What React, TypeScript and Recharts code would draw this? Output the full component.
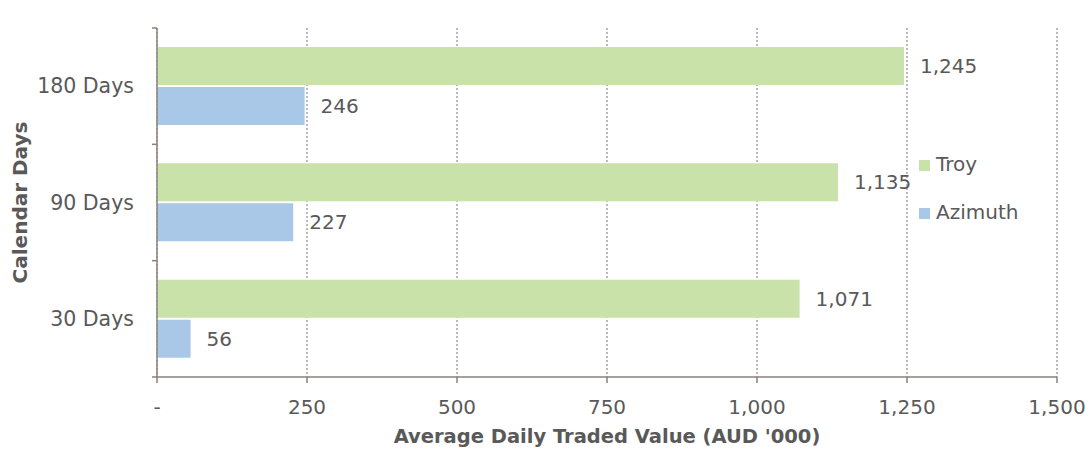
import React from "react";
import {
  BarChart,
  Bar,
  XAxis,
  YAxis,
  CartesianGrid,
  Legend,
  LabelList,
} from "recharts";

const categories = ["180 Days", "90 Days", "30 Days"];
const troyValues = [1245, 1135, 1071];
const azimuthValues = [246, 227, 56];
const xTicks = [0, 250, 500, 750, 1000, 1250, 1500];

const series = [
  { key: "troy", name: "Troy", color: "#c8e2aa" },
  { key: "azimuth", name: "Azimuth", color: "#a9c8e8" },
];

const data = categories.map((c, i) => ({
  name: c,
  troy: troyValues[i],
  azimuth: azimuthValues[i],
}));

const W = 1085;
const H = 450;
const MARGIN = { top: 28, right: 28, bottom: 0, left: 0 };
const X_AXIS_H = 73;
const PLOT_H = H - MARGIN.top - MARGIN.bottom - X_AXIS_H;

const FONT = "'DejaVu Sans', sans-serif";
const TEXT = "#595959";
const AXIS = "#8a827e";

const fmt = (v: number) => (v === 0 ? "-" : v.toLocaleString("en-US"));

const YTick = (props: any) => {
  const { x, y, payload, index } = props;
  const band = PLOT_H / categories.length;
  return (
    <g>
      <line
        x1={x - 5}
        x2={x}
        y1={y - band / 2}
        y2={y - band / 2}
        stroke={AXIS}
        strokeWidth={1.5}
      />
      {index === categories.length - 1 && (
        <line
          x1={x - 5}
          x2={x}
          y1={y + band / 2}
          y2={y + band / 2}
          stroke={AXIS}
          strokeWidth={1.5}
        />
      )}
      <text
        x={x - 23}
        y={y}
        dy="0.35em"
        textAnchor="end"
        fill={TEXT}
        fontSize={20.5}
        fontFamily={FONT}
      >
        {payload.value}
      </text>
    </g>
  );
};

const LegendContent = () => (
  <div style={{ fontFamily: FONT, fontSize: 20, color: TEXT }}>
    {series.map((s) => (
      <div
        key={s.key}
        style={{ display: "flex", alignItems: "center", height: 48 }}
      >
        <span
          style={{
            width: 11,
            height: 11,
            background: s.color,
            marginRight: 6,
            marginTop: 2,
          }}
        />
        <span>{s.name}</span>
      </div>
    ))}
  </div>
);

export default function App() {
  return (
    <div style={{ position: "absolute", left: 0, top: 0, background: "#fff" }}>
      <BarChart
        width={W}
        height={H}
        data={data}
        layout="vertical"
        margin={MARGIN}
        barSize={38}
        barGap={2}
      >
        <CartesianGrid
          horizontal={false}
          stroke="#7f7470"
          strokeDasharray="2 2"
        />
        <XAxis
          type="number"
          domain={[0, 1500]}
          ticks={xTicks}
          tickFormatter={fmt}
          height={X_AXIS_H}
          stroke={AXIS}
          strokeWidth={1.5}
          tickSize={6}
          tickMargin={17}
          tick={{ fill: TEXT, fontSize: 20, fontFamily: FONT }}
          interval={0}
          label={{
            value: "Average Daily Traded Value (AUD '000)",
            position: "insideBottom",
            offset: 7,
            fill: TEXT,
            fontSize: 19.5,
            fontWeight: "bold",
            fontFamily: FONT,
          }}
        />
        <YAxis
          type="category"
          dataKey="name"
          width={157}
          stroke={AXIS}
          strokeWidth={1.5}
          tickLine={false}
          tickSize={0}
          tickMargin={0}
          tick={<YTick />}
          interval={0}
          label={{
            value: "Calendar Days",
            angle: -90,
            position: "insideLeft",
            offset: 20,
            fill: TEXT,
            fontSize: 20,
            fontWeight: "bold",
            fontFamily: FONT,
            style: { textAnchor: "middle" },
          }}
        />
        <Legend
          layout="vertical"
          align="center"
          verticalAlign="middle"
          wrapperStyle={{ left: 919, top: 140, width: "auto" }}
          content={<LegendContent />}
        />
        {series.map((s) => (
          <Bar
            key={s.key}
            dataKey={s.key}
            name={s.name}
            fill={s.color}
            isAnimationActive={false}
          >
            <LabelList
              dataKey={s.key}
              position="right"
              offset={16}
              formatter={(v: any) => fmt(Number(v))}
              fill={TEXT}
              fontSize={20}
              fontFamily={FONT}
            />
          </Bar>
        ))}
      </BarChart>
    </div>
  );
}
